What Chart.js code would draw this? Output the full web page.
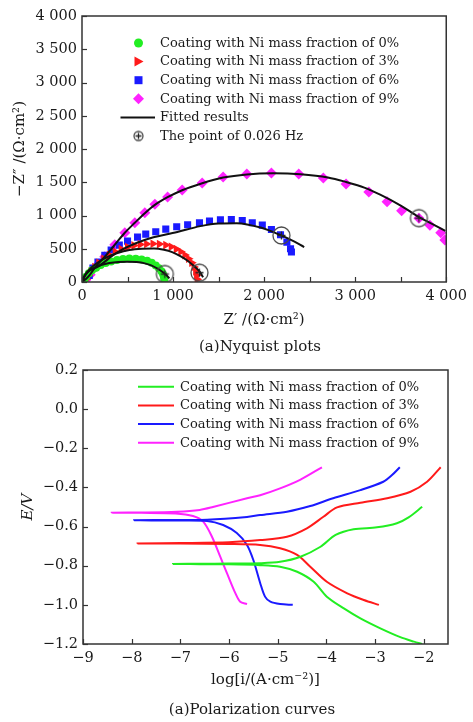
<!DOCTYPE html>
<html>
<head>
<meta charset="utf-8">
<script src="https://cdn.jsdelivr.net/npm/chart.js@4.4.1/dist/chart.umd.min.js"></script>
<style>
    html, body { margin: 0; padding: 0; background: #fff; }
    #page { position: relative; width: 473px; height: 722px; overflow: hidden; }
    #nyqBox { position: absolute; left: 0; top: 0; width: 473px; height: 355px; }
    #polBox { position: absolute; left: 0; top: 355px; width: 473px; height: 367px; }
</style>
</head>
<body>
<div id="page">
    <div id="nyqBox"><canvas id="nyquistChart" width="473" height="355"></canvas></div>
    <div id="polBox"><canvas id="polChart" width="473" height="367"></canvas></div>
</div>
<script>
// ---- data ----
const SERIES_LABELS = [
    'Coating with Ni mass fraction of 0%',
    'Coating with Ni mass fraction of 3%',
    'Coating with Ni mass fraction of 6%',
    'Coating with Ni mass fraction of 9%'
];
const FIT_LABEL = 'Fitted results';
const POINT_LABEL = 'The point of 0.026 Hz';

// Nyquist: [Z', -Z''] in Ω·cm²
const nyq0 = [[25,30],[45,80],[75,130],[110,175],[155,215],[205,255],[260,285],[320,310],[385,330],[450,345],[520,352],[590,350],[655,340],[715,320],[765,290],[810,250],[845,205],[872,160],[890,115],[900,70],[905,30]];
const nyq3 = [[45,40],[70,100],[100,160],[140,225],[185,290],[240,350],[300,405],[365,455],[430,495],[500,525],[570,550],[640,565],[710,572],[780,575],[850,570],[920,555],[980,530],[1035,495],[1085,455],[1130,405],[1170,350],[1205,290],[1230,225],[1248,160],[1258,100],[1265,40]];
const nyq6 = [[80,100],[120,210],[175,300],[250,400],[320,480],[410,555],[500,615],[610,675],[700,720],[810,755],[920,795],[1040,830],[1160,860],[1290,890],[1400,915],[1520,935],[1640,940],[1760,925],[1870,890],[1980,855],[2080,790],[2180,710],[2250,600],[2290,500],[2300,450]];
const nyq9 = [[40,30],[90,110],[150,230],[250,380],[360,560],[470,740],[580,890],[690,1040],[800,1170],[940,1280],[1100,1385],[1320,1490],[1550,1580],[1810,1625],[2080,1640],[2380,1625],[2650,1565],[2900,1475],[3150,1355],[3350,1205],[3510,1070],[3700,960],[3820,855],[3940,740],[3985,630]];

const fit0 = [[0,0],[25,75],[65,150],[130,210],[210,255],[300,285],[400,302],[500,306],[600,300],[690,280],[760,250],[830,200],[885,150],[925,105],[960,55]];
const fit3 = [[0,0],[30,100],[90,200],[170,290],[270,370],[390,435],[520,480],[660,500],[790,505],[900,485],[990,450],[1080,390],[1160,320],[1230,240],[1290,160],[1330,70]];
const fit6 = [[0,0],[25,80],[60,150],[174,230],[393,451],[687,632],[1047,752],[1300,840],[1500,880],[1700,885],[1970,815],[2180,705],[2300,630],[2440,526]];
const fit9 = [[0,0],[40,40],[90,115],[150,230],[250,380],[360,560],[470,740],[580,890],[690,1035],[800,1160],[940,1275],[1100,1380],[1320,1485],[1550,1570],[1810,1618],[2100,1634],[2400,1620],[2700,1572],[2900,1504],[3100,1420],[3280,1310],[3500,1150],[3700,975],[3850,870],[3990,770]];

const point026 = [[910,120],[1290,140],[2190,700],[3700,960]];

// Polarization: [log i, E]
const pol0 = [[-2.03,-1.20],[-2.20,-1.188],[-2.48,-1.165],[-2.89,-1.12],[-3.30,-1.069],[-3.64,-1.018],[-3.99,-0.958],[-4.26,-0.882],[-4.60,-0.831],[-4.95,-0.805],[-5.36,-0.797],[-6.0,-0.793],[-6.6,-0.792],[-7.15,-0.791],[-6.6,-0.790],[-6.0,-0.789],[-5.36,-0.787],[-4.95,-0.780],[-4.53,-0.754],[-4.12,-0.703],[-3.81,-0.643],[-3.44,-0.614],[-2.96,-0.604],[-2.55,-0.583],[-2.31,-0.553],[-2.03,-0.499]];
const pol3 = [[-2.92,-1.0],[-3.23,-0.975],[-3.57,-0.941],[-3.99,-0.882],[-4.33,-0.805],[-4.60,-0.745],[-4.95,-0.711],[-5.36,-0.694],[-6.0,-0.689],[-7.0,-0.687],[-7.88,-0.686],[-7.0,-0.684],[-6.0,-0.680],[-5.36,-0.669],[-4.81,-0.652],[-4.40,-0.609],[-4.06,-0.55],[-3.78,-0.502],[-3.30,-0.478],[-2.75,-0.455],[-2.27,-0.422],[-1.93,-0.371],[-1.65,-0.297]];
const pol6 = [[-4.69,-1.0],[-4.95,-0.996],[-5.15,-0.984],[-5.26,-0.958],[-5.36,-0.888],[-5.50,-0.771],[-5.63,-0.694],[-5.84,-0.633],[-6.12,-0.592],[-6.45,-0.571],[-7.2,-0.569],[-7.95,-0.568],[-7.2,-0.566],[-6.45,-0.565],[-5.63,-0.551],[-5.36,-0.541],[-4.81,-0.524],[-4.33,-0.495],[-3.86,-0.455],[-3.30,-0.414],[-2.83,-0.371],[-2.65,-0.337],[-2.49,-0.297]];
const pol9 = [[-5.63,-0.996],[-5.77,-0.984],[-5.87,-0.94],[-6.04,-0.839],[-6.18,-0.754],[-6.35,-0.652],[-6.53,-0.575],[-6.74,-0.546],[-7.1,-0.533],[-7.8,-0.530],[-8.41,-0.529],[-7.8,-0.528],[-7.07,-0.524],[-6.6,-0.515],[-6.33,-0.50],[-5.63,-0.455],[-5.36,-0.44],[-4.95,-0.405],[-4.53,-0.36],[-4.09,-0.297]];

const COLORS = ['#22ee22', '#ff1a1a', '#1a1aff', '#ff22ff'];
const SERIF = "'DejaVu Serif', serif";
const INK = '#1a1a1a';

// ---- helpers ----
function toXY(pairs) {
    return pairs.map(p => ({ x: p[0], y: p[1] }));
}

function fmtThousands(v) {
    if (v < 1000) return String(v);
    return Math.floor(v / 1000) + ' ' + String(v % 1000).padStart(3, '0');
}

function fmtSigned(v, digits) {
    if (Math.abs(v) < 1e-9) v = 0;
    return v.toFixed(digits).replace('-', '\u2212');
}

// circle with a cross, used for the 0.026 Hz points
function makeCirclePlus(r, arm) {
    const c = document.createElement('canvas');
    const s = Math.ceil(r * 2 + 4);
    c.width = s; c.height = s;
    const g = c.getContext('2d');
    g.strokeStyle = '#4a4a4a';
    g.lineWidth = 1.3;
    g.beginPath();
    g.arc(s / 2, s / 2, r, 0, Math.PI * 2);
    g.stroke();
    g.strokeStyle = '#222';
    g.beginPath();
    g.moveTo(s / 2 - arm, s / 2); g.lineTo(s / 2 + arm, s / 2);
    g.moveTo(s / 2, s / 2 - arm); g.lineTo(s / 2, s / 2 + arm);
    g.stroke();
    return c;
}
const bigCirclePlus = makeCirclePlus(8.5, 4);
const smallCirclePlus = makeCirclePlus(4.5, 3);

// legend symbol drawing
function drawSymbol(ctx, kind, color, x, y) {
    ctx.fillStyle = color;
    ctx.strokeStyle = color;
    ctx.beginPath();
    if (kind === 'circle') {
        ctx.arc(x, y, 4.5, 0, Math.PI * 2);
        ctx.fill();
    } else if (kind === 'triangle') {
        ctx.moveTo(x - 4, y - 5); ctx.lineTo(x + 5, y); ctx.lineTo(x - 4, y + 5);
        ctx.closePath(); ctx.fill();
    } else if (kind === 'rect') {
        ctx.rect(x - 4, y - 4, 8, 8);
        ctx.fill();
    } else if (kind === 'rectRot') {
        ctx.moveTo(x, y - 5.5); ctx.lineTo(x + 5.5, y); ctx.lineTo(x, y + 5.5); ctx.lineTo(x - 5.5, y);
        ctx.closePath(); ctx.fill();
    } else if (kind === 'line') {
        ctx.lineWidth = 2;
        ctx.moveTo(x.from, y); ctx.lineTo(x.to, y);
        ctx.stroke();
    }
}

const insideLegend = {
    id: 'insideLegend',
    afterDraw(chart, args, opts) {
        const ctx = chart.ctx;
        const seen = new Set();
        const items = [];
        chart.data.datasets.forEach(ds => {
            if (seen.has(ds.label)) return;
            seen.add(ds.label);
            items.push(ds);
        });
        items.sort((a, b) => a.legendRank - b.legendRank);
        ctx.save();
        ctx.font = opts.font;
        ctx.textBaseline = 'middle';
        items.forEach((ds, i) => {
            const y = opts.top + i * opts.rowGap;
            if (ds.legendKind === 'image') {
                ctx.drawImage(smallCirclePlus, opts.symbolX - smallCirclePlus.width / 2, y - smallCirclePlus.height / 2);
            } else if (ds.legendKind === 'line') {
                drawSymbol(ctx, 'line', ds.borderColor, { from: opts.lineFrom, to: opts.lineTo }, y);
            } else {
                drawSymbol(ctx, ds.legendKind, ds.backgroundColor, opts.symbolX, y);
            }
            ctx.fillStyle = INK;
            ctx.fillText(ds.label, opts.textX, y + 0.5);
        });
        ctx.restore();
    }
};

// frame round the plot and short inward ticks
const frameTicks = {
    id: 'frameTicks',
    afterDatasetsDraw(chart) {
        const { ctx, chartArea: a, scales } = chart;
        ctx.save();
        ctx.strokeStyle = '#333';
        ctx.lineWidth = 1.5;
        ctx.strokeRect(a.left, a.top, a.right - a.left, a.bottom - a.top);
        ctx.lineWidth = 1.2;
        scales.x.ticks.forEach(t => {
            const px = Math.round(scales.x.getPixelForValue(t.value)) + 0.5;
            ctx.beginPath(); ctx.moveTo(px, a.bottom); ctx.lineTo(px, a.bottom - 5); ctx.stroke();
        });
        scales.y.ticks.forEach(t => {
            const py = Math.round(scales.y.getPixelForValue(t.value)) + 0.5;
            ctx.beginPath(); ctx.moveTo(a.left, py); ctx.lineTo(a.left + 5, py); ctx.stroke();
        });
        ctx.restore();
    }
};

const caption = {
    id: 'caption',
    afterDraw(chart, args, opts) {
        const ctx = chart.ctx;
        ctx.save();
        ctx.font = opts.font;
        ctx.fillStyle = INK;
        ctx.textAlign = 'center';
        ctx.textBaseline = 'middle';
        ctx.fillText(opts.text, opts.x, opts.y);
        ctx.restore();
    }
};

const tickFont = { family: SERIF, size: 14.5 };
const titleFont = { family: SERIF, size: 15 };

// ---- Nyquist plots ----
const markerStyles = [
    { pointStyle: 'circle', pointRadius: 4, rotation: 0 },
    { pointStyle: 'triangle', pointRadius: 5, rotation: 90 },
    { pointStyle: 'rect', pointRadius: 5, rotation: 0 },
    { pointStyle: 'rectRot', pointRadius: 5.5, rotation: 0 }
];
const legendKinds = ['circle', 'triangle', 'rect', 'rectRot'];
const nyqSeries = [nyq0, nyq3, nyq6, nyq9];
const fitSeries = [fit0, fit3, fit6, fit9];

const nyqDatasets = [];
nyqSeries.forEach((s, i) => {
    nyqDatasets.push({
        label: SERIES_LABELS[i],
        data: toXY(s),
        showLine: false,
        backgroundColor: COLORS[i],
        borderColor: COLORS[i],
        borderWidth: 0,
        pointStyle: markerStyles[i].pointStyle,
        pointRadius: markerStyles[i].pointRadius,
        pointRotation: markerStyles[i].rotation,
        order: 2,
        legendKind: legendKinds[i],
        legendRank: i
    });
});
fitSeries.forEach(s => {
    nyqDatasets.push({
        label: FIT_LABEL,
        data: toXY(s),
        showLine: true,
        borderColor: '#111',
        backgroundColor: '#111',
        borderWidth: 2,
        pointRadius: 0,
        cubicInterpolationMode: 'monotone',
        order: 1,
        legendKind: 'line',
        legendRank: 4
    });
});
nyqDatasets.push({
    label: POINT_LABEL,
    data: toXY(point026),
    showLine: false,
    pointStyle: bigCirclePlus,
    pointRadius: 9,
    order: 0,
    legendKind: 'image',
    legendRank: 5
});

new Chart(document.getElementById('nyquistChart'), {
    type: 'scatter',
    data: { datasets: nyqDatasets },
    plugins: [frameTicks, insideLegend, caption],
    options: {
        responsive: false,
        animation: false,
        devicePixelRatio: 1,
        layout: { padding: { top: 16, right: 24, bottom: 18, left: 0 } },
        plugins: {
            legend: { display: false },
            tooltip: { enabled: false },
            insideLegend: { font: '13px ' + SERIF, top: 43, rowGap: 18.6, symbolX: 138.5, lineFrom: 120.5, lineTo: 155, textX: 160 },
            caption: { text: '(a)Nyquist plots', font: '15px ' + SERIF, x: 260, y: 347 }
        },
        scales: {
            x: {
                type: 'linear', min: 0, max: 4000,
                grid: { display: false, drawTicks: false },
                border: { display: false },
                ticks: {
                    stepSize: 500, autoSkip: false, maxRotation: 0, padding: 6, color: INK, font: tickFont,
                    callback: v => (v % 1000 === 0 ? fmtThousands(v) : '')
                },
                title: { display: true, text: 'Z\u2032 /(\u03A9\u00B7cm\u00B2)', color: INK, font: titleFont, padding: { top: 0, bottom: 8 } },
                afterFit: s => { s.height = 55; }
            },
            y: {
                type: 'linear', min: 0, max: 4000,
                grid: { display: false, drawTicks: false },
                border: { display: false },
                ticks: { stepSize: 500, autoSkip: false, padding: 5, color: INK, font: tickFont, callback: v => fmtThousands(v) },
                title: { display: true, text: '\u2212Z\u2033 /(\u03A9\u00B7cm\u00B2)', color: INK, font: titleFont, padding: { top: 11, bottom: 0 } },
                afterFit: s => { s.width = 82; }
            }
        }
    }
});

// ---- Polarization curves ----
const polSeries = [pol0, pol3, pol6, pol9];
const polDatasets = polSeries.map((s, i) => ({
    label: SERIES_LABELS[i],
    data: toXY(s),
    showLine: true,
    borderColor: COLORS[i],
    backgroundColor: COLORS[i],
    borderWidth: 2,
    pointRadius: 0,
    tension: 0.3,
    legendKind: 'line',
    legendRank: i
}));

new Chart(document.getElementById('polChart'), {
    type: 'scatter',
    data: { datasets: polDatasets },
    plugins: [frameTicks, insideLegend, caption],
    options: {
        responsive: false,
        animation: false,
        devicePixelRatio: 1,
        layout: { padding: { top: 15, right: 25, bottom: 21, left: 0 } },
        plugins: {
            legend: { display: false },
            tooltip: { enabled: false },
            insideLegend: { font: '13px ' + SERIF, top: 31.7, rowGap: 18.7, symbolX: 156, lineFrom: 138, lineTo: 174, textX: 180 },
            caption: { text: '(a)Polarization curves', font: '15px ' + SERIF, x: 252, y: 355 }
        },
        scales: {
            x: {
                type: 'linear', min: -9, max: -1.5,
                grid: { display: false, drawTicks: false },
                border: { display: false },
                afterBuildTicks: s => { s.ticks = s.ticks.filter(t => Math.abs(t.value - Math.round(t.value)) < 1e-6); },
                ticks: { stepSize: 1, includeBounds: false, autoSkip: false, maxRotation: 0, padding: 6, color: INK, font: tickFont, callback: v => fmtSigned(v, 0) },
                title: { display: true, text: 'log[i/(A\u00B7cm\u207B\u00B2)]', color: INK, font: titleFont, padding: { top: 0, bottom: 12 } },
                afterFit: s => { s.height = 57; }
            },
            y: {
                type: 'linear', min: -1.2, max: 0.2,
                grid: { display: false, drawTicks: false },
                border: { display: false },
                ticks: { stepSize: 0.2, autoSkip: false, padding: 5, color: INK, font: tickFont, callback: v => fmtSigned(v, 1) },
                title: { display: true, text: 'E/V', color: INK, font: { family: SERIF, size: 15, style: 'italic' }, padding: { top: 19, bottom: 0 } },
                afterFit: s => { s.width = 83; }
            }
        }
    }
});
</script>
</body>
</html>
